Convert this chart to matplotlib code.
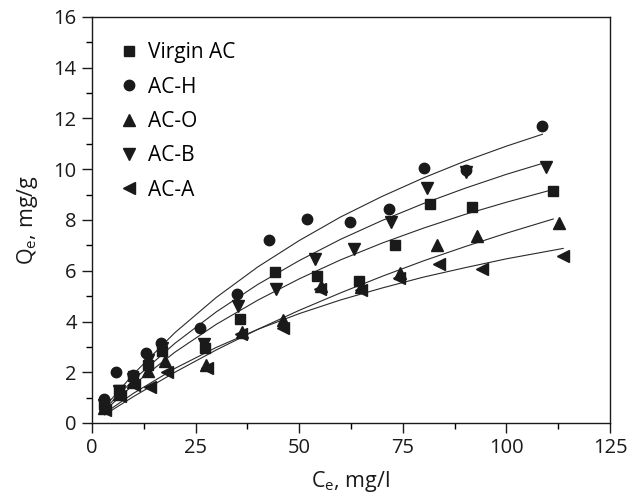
import matplotlib
matplotlib.use("Agg")
import matplotlib.pyplot as plt
from matplotlib.ticker import MultipleLocator

plt.rcParams['font.family'] = ['Open Sans', 'DejaVu Sans']
plt.rcParams['mathtext.fontset'] = 'custom'
plt.rcParams['mathtext.rm'] = 'Open Sans'
plt.rcParams['mathtext.it'] = 'Open Sans'

# ---- data ----
series_names = ["Virgin AC", "AC-H", "AC-O", "AC-B", "AC-A"]

virgin_x = [3.0, 6.5, 10.0, 13.5, 17.0, 27.3, 35.7, 44.2, 54.2, 64.5, 73.2, 81.6, 91.8, 111.3]
virgin_y = [0.75, 1.3, 1.85, 2.3, 2.85, 2.95, 4.1, 5.95, 5.8, 5.6, 7.0, 8.65, 8.5, 9.15]

ach_x = [2.8, 5.9, 9.8, 13.1, 16.7, 26.1, 34.9, 42.8, 52.0, 62.2, 71.7, 80.1, 90.3, 108.7]
ach_y = [0.95, 2.0, 1.9, 2.75, 3.15, 3.75, 5.1, 7.2, 8.05, 7.93, 8.43, 10.05, 9.97, 11.7]

aco_x = [3.0, 6.5, 10.0, 13.5, 17.5, 27.5, 36.3, 46.0, 55.2, 65.0, 74.3, 83.3, 93.0, 112.8]
aco_y = [0.6, 1.15, 1.6, 2.05, 2.45, 2.3, 3.6, 4.05, 5.4, 5.35, 5.9, 7.0, 7.35, 7.9]

acb_x = [3.0, 6.5, 10.0, 13.5, 17.0, 27.0, 35.3, 44.5, 53.7, 63.2, 72.2, 80.9, 90.3, 109.5]
acb_y = [0.7, 1.25, 1.75, 2.5, 2.95, 3.1, 4.6, 5.3, 6.45, 6.85, 7.92, 9.25, 9.9, 10.1]

aca_x = [3.2, 6.8, 10.2, 14.0, 18.0, 27.8, 36.0, 46.0, 55.0, 65.0, 74.2, 83.8, 94.0, 113.6]
aca_y = [0.5, 1.05, 1.5, 1.4, 2.0, 2.15, 3.5, 3.75, 5.3, 5.25, 5.7, 6.25, 6.05, 6.6]

# fitted curves
fit_virgin_x = [3, 10, 20, 30, 40, 50, 60, 70, 80, 90, 100, 110.1]
fit_virgin_y = [0.48, 1.51, 2.79, 3.89, 4.84, 5.68, 6.43, 7.09, 7.68, 8.22, 8.70, 9.15]

fit_ach_x = [3, 10, 20, 30, 40, 50, 60, 70, 80, 90, 100, 108.7]
fit_ach_y = [0.62, 1.93, 3.56, 4.95, 6.15, 7.19, 8.12, 8.93, 9.66, 10.32, 10.91, 11.38]

fit_aco_x = [3, 10, 20, 30, 40, 50, 60, 70, 80, 90, 100, 111.3]
fit_aco_y = [0.32, 1.04, 2.00, 2.88, 3.69, 4.44, 5.13, 5.78, 6.39, 6.95, 7.48, 8.04]

fit_acb_x = [3, 10, 20, 30, 40, 50, 60, 70, 80, 90, 100, 109.5]
fit_acb_y = [0.54, 1.70, 3.14, 4.38, 5.46, 6.40, 7.24, 7.98, 8.65, 9.25, 9.80, 10.27]

fit_aca_x = [3, 10, 20, 30, 40, 50, 60, 70, 80, 90, 100, 113.7]
fit_aca_y = [0.38, 1.17, 2.15, 2.98, 3.69, 4.31, 4.85, 5.32, 5.75, 6.12, 6.47, 6.88]

x_ticks = [0, 25, 50, 75, 100, 125]
y_ticks = [0, 2, 4, 6, 8, 10, 12, 14, 16]

# ---- plot ----
fig = plt.figure(figsize=(6.32, 4.99), dpi=100)
ax = fig.add_axes([92/632, 1-423/499, (610-92)/632, (423-17)/499])

col = '#1a1a1a'
for fx, fy in [(fit_virgin_x, fit_virgin_y), (fit_ach_x, fit_ach_y), (fit_aco_x, fit_aco_y),
               (fit_acb_x, fit_acb_y), (fit_aca_x, fit_aca_y)]:
    ax.plot(fx, fy, '-', color='#2a2a2a', lw=0.8, zorder=2)

markers = ['s', 'o', '^', 'v', '<']
sizes = [6.5, 7.5, 8, 8, 8]
data = [(virgin_x, virgin_y), (ach_x, ach_y), (aco_x, aco_y), (acb_x, acb_y), (aca_x, aca_y)]
for (dx, dy), m, s, name in zip(data, markers, sizes, series_names):
    ax.plot(dx, dy, linestyle='none', marker=m, ms=s, color=col, mec=col, label=name, zorder=3)

ax.set_xlim(0, 125)
ax.set_ylim(0, 16)
ax.set_xticks(x_ticks)
ax.set_yticks(y_ticks)
ax.xaxis.set_minor_locator(MultipleLocator(12.5))
ax.yaxis.set_minor_locator(MultipleLocator(1))
ax.tick_params(which='major', direction='out', length=7, width=1, labelsize=14.5,
               colors='#1a1a1a', pad=4)
ax.tick_params(which='minor', direction='out', length=4, width=1)
ax.tick_params(top=False, right=False, which='both')
for sp in ax.spines.values():
    sp.set_linewidth(1.0)
    sp.set_color('#1a1a1a')

ax.set_xlabel(r'C$_{\mathrm{e}}$, mg/l', fontsize=15.5, color='#1a1a1a', labelpad=8)
ax.set_ylabel(r'Q$_{\mathrm{e}}$, mg/g', fontsize=15.5, color='#1a1a1a', labelpad=10)

leg = ax.legend(loc='upper left', bbox_to_anchor=(0.035, 0.958), frameon=False, fontsize=15,
                handlelength=1.0, handletextpad=0.42, labelspacing=0.64, borderaxespad=0.0,
                borderpad=0.4)

fig.savefig('out.png', dpi=100)
